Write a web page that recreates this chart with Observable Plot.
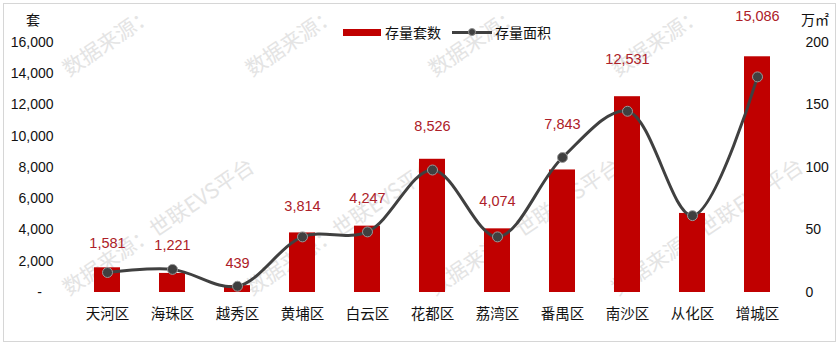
<!DOCTYPE html>
<html>
<head>
<meta charset="utf-8">
<script src="https://cdn.jsdelivr.net/npm/d3@7"></script>
<script src="https://cdn.jsdelivr.net/npm/@observablehq/plot@0.6"></script>
<style>
  html, body { margin: 0; padding: 0; background: #fff; }
  #wrap { position: relative; width: 840px; height: 345px; overflow: hidden; font-family: "Noto Sans CJK SC", "Liberation Sans", sans-serif; }
  #frame { position: absolute; left: 3px; top: 3px; width: 833px; height: 339px; border: 1px solid #d6d6d6; box-sizing: border-box; }
  #wm { position: absolute; left: 0; top: 0; width: 840px; height: 345px; }
  .wm { position: absolute; font-size: 21px; line-height: 21px; color: #e4e4e4; white-space: nowrap; transform-origin: 0 100%; transform: rotate(-34deg); }
  #chart { position: absolute; left: 0; top: 0; }
  .unit { position: absolute; font-size: 14px; color: #111; }
  #legend { position: absolute; left: 343px; top: 22px; display: flex; align-items: center; font-size: 14px; color: #111; }
  .sw-bar { width: 38px; height: 7px; background: #C00000; margin-right: 4px; }
  .sw-line { position: relative; width: 40px; height: 10px; margin: 0 3px 0 11px; }
  .sw-line::before { content: ""; position: absolute; left: 0; right: 0; top: 3.5px; height: 3px; background: #404040; }
  .sw-line::after { content: ""; position: absolute; left: 16px; top: 1px; width: 8px; height: 8px; border-radius: 50%; background: #404040; box-sizing: border-box; border: 1px solid #8f8f8f; }
</style>
</head>
<body>
<div id="wrap">
  <div id="wm"></div>
  <div id="frame"></div>
  <div id="chart"></div>
  <div class="unit" style="left:26px; top:9px;">套</div>
  <div class="unit" style="left:801px; top:9px;">万㎡</div>
  <div id="legend">
    <div class="sw-bar"></div><span>存量套数</span>
    <div class="sw-line"></div><span>存量面积</span>
  </div>
</div>
<script>
// ---- data ----
const districts = ["天河区","海珠区","越秀区","黄埔区","白云区","花都区","荔湾区","番禺区","南沙区","从化区","增城区"];
const units = [1581, 1221, 439, 3814, 4247, 8526, 4074, 7843, 12531, 5060, 15086];      // 存量套数 (套)
const area = [16, 18.5, 5, 44.5, 48.5, 98, 44.5, 108, 145, 61.5, 172.5];              // 存量面积 (万㎡)
const unitLabels = ["1,581","1,221","439","3,814","4,247","8,526","4,074","7,843","12,531","","15,086"];
const leftTicks = [0, 2000, 4000, 6000, 8000, 10000, 12000, 14000, 16000];
const rightTicks = [0, 50, 100, 150, 200];
const watermarkFull = "数据来源：世联EVS平台";
const watermarkHead = "数据来源：";

// ---- watermark tiles (decoration) ----
const wm = document.getElementById("wm");
for (const [row, txt] of [[79, watermarkHead], [298, watermarkFull]]) {
  for (let k = 0; k < 4; k++) {
    const s = document.createElement("div");
    s.className = "wm";
    s.textContent = txt;
    s.style.left = (70 + 183 * k) + "px";
    s.style.top = (row - 21) + "px";
    wm.appendChild(s);
  }
}

// ---- chart ----
const ratio = 16000 / 200;
const table = districts.map((d, i) => ({district: d, units: units[i], area: area[i], label: unitLabels[i]}));
const numFont = "Liberation Sans, Arial, sans-serif";
const cjkFont = "Noto Sans CJK SC, sans-serif";

const chart = Plot.plot({
  width: 840,
  height: 345,
  marginTop: 42,
  marginBottom: 53,
  marginLeft: 73,
  marginRight: 50,
  style: {background: "transparent", color: "#111"},
  x: {domain: districts, paddingInner: 0.6, paddingOuter: 0.3, axis: null, label: null},
  y: {domain: [0, 16000], axis: null, label: null},
  marks: [
    Plot.axisX({tickSize: 0, tickPadding: 16, fontSize: 14.5, fontFamily: cjkFont, fill: "#111", label: null}),
    Plot.axisY({ticks: leftTicks, tickSize: 0, tickPadding: 20, fontSize: 14, fontFamily: numFont, fill: "#111", label: null,
      tickFormat: d => d === 0 ? "-\u00a0\u00a0\u00a0" : d3.format(",")(d)}),
    Plot.axisY(rightTicks.map(v => v * ratio), {anchor: "right", tickSize: 0, tickPadding: 15, fontSize: 14, fontFamily: numFont, fill: "#111", label: null,
      tickFormat: d => String(d / ratio)}),
    Plot.barY(table, {x: "district", y: "units", fill: "#C00000"}),
    Plot.line(table, {x: "district", y: d => d.area * ratio, curve: "catmull-rom", stroke: "#404040", strokeWidth: 3}),
    Plot.dot(table, {x: "district", y: d => d.area * ratio, r: 5, fill: "#404040", stroke: "#9a9a9a", strokeWidth: 1}),
    Plot.text(table, {x: "district",
      y: d => { const top = Math.max(d.units, d.area * ratio); return top * 1.08 + 1408; },
      text: "label", fill: "#ad2028", fontSize: 14.5, fontFamily: numFont})
  ]
});
document.getElementById("chart").appendChild(chart);
</script>
</body>
</html>
